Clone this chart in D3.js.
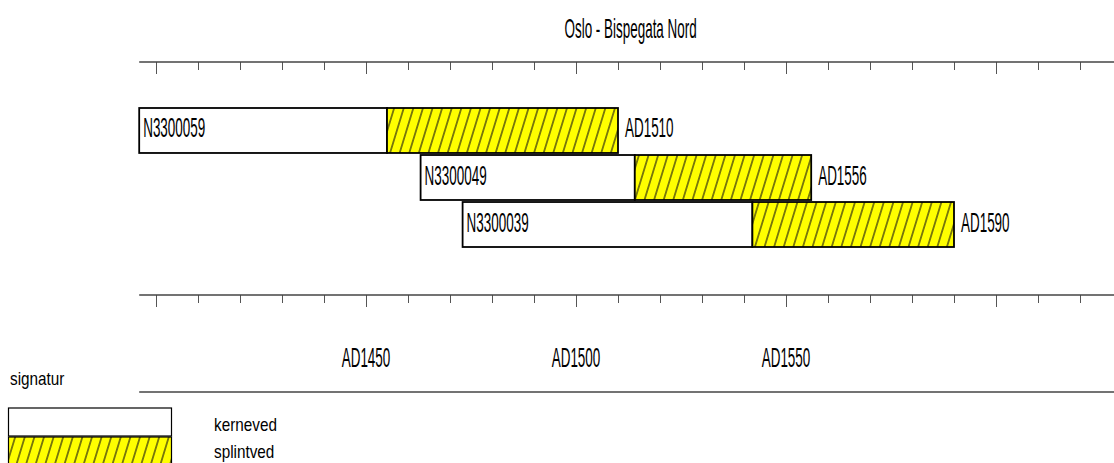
<!DOCTYPE html>
<html lang="no">

<head>
    <meta charset="UTF-8">
    <title>Oslo - Bispegata Nord</title>
    <script src="https://d3js.org/d3.v7.min.js"></script>
    <style>
        body {
            margin: 0;
            background: #fff;
        }

        svg {
            display: block;
        }

        text {
            font-family: "Liberation Sans", Arial, sans-serif;
            fill: #000;
        }
    </style>
</head>

<body>
    <script>
        // data
        const title = "Oslo - Bispegata Nord"
        const samples = ["N3300059", "N3300049", "N3300039"]
        const startYears = [1396, 1463, 1473]   // first ring
        const sapStart = [1455, 1514, 1542]     // start of sapwood (splintved)
        const endYears = [1510, 1556, 1590]     // last ring
        const tickYears = d3.range(1400, 1621, 10)
        const labelYears = [1450, 1500, 1550]
        const tickLabels = ["AD1450", "AD1500", "AD1550"]
        const legendLabels = ["kerneved", "splintved"]

        const width = 1114
        const height = 463

        const svg = d3.select("body").append("svg")
            .attr("width", width)
            .attr("height", height)

        // diagonal hatch for sapwood
        const defs = svg.append("defs")
        const pat = defs.append("pattern")
            .attr("id", "hatch")
            .attr("patternUnits", "userSpaceOnUse")
            .attr("width", 9.6)
            .attr("height", 10)
            .attr("patternTransform", "skewX(-17)")
        pat.append("rect").attr("width", 9.6).attr("height", 10).attr("fill", "#ffff00")
        pat.append("line")
            .attr("x1", 4.8).attr("x2", 4.8)
            .attr("y1", -1).attr("y2", 11)
            .attr("stroke", "#111").attr("stroke-width", 1.1)

        const x = d3.scaleLinear().domain([1400, 1620]).range([156, 1080])
        const y = d3.scaleBand().domain(samples).range([108, 247]).paddingInner(0.043)

        const bigFont = 28, bigScale = 0.48
        const smallFont = 18, smallScale = 0.85

        // narrow text helper
        function label(g, txt, px, py, size, sx, anchor) {
            return g.append("text")
                .attr("transform", `translate(${px},${py}) scale(${sx},1)`)
                .attr("font-size", size)
                .attr("text-anchor", anchor || "start")
                .text(txt)
        }

        label(svg, title, x(1513), 38, bigFont, bigScale, "middle")

        // axes
        const lineStart = x(d3.min(startYears))
        function timeAxis(yPos) {
            const g = svg.append("g").attr("transform", `translate(0,${yPos})`)
            g.call(d3.axisBottom(x).tickValues(tickYears).tickFormat("").tickSizeOuter(0))
            g.select(".domain").remove()
            g.selectAll(".tick line")
                .attr("stroke", "#555")
                .attr("y2", d => d % 50 === 0 ? 12 : 8)
            g.append("line")
                .attr("x1", lineStart).attr("x2", width)
                .attr("stroke", "#444").attr("stroke-width", 1.5)
            return g
        }
        timeAxis(62)
        timeAxis(295)

        labelYears.forEach((yr, i) => label(svg, tickLabels[i], x(yr), 367, bigFont, bigScale, "middle"))

        svg.append("line")
            .attr("x1", lineStart).attr("x2", width)
            .attr("y1", 392).attr("y2", 392)
            .attr("stroke", "#444").attr("stroke-width", 1.5)

        // bars
        const bars = svg.append("g")
        samples.forEach((s, i) => {
            const top = y(s), h = y.bandwidth()
            bars.append("rect")
                .attr("x", x(startYears[i])).attr("y", top)
                .attr("width", x(sapStart[i]) - x(startYears[i])).attr("height", h)
                .attr("fill", "#fff").attr("stroke", "#000").attr("stroke-width", 1.8)
            bars.append("rect")
                .attr("x", x(sapStart[i])).attr("y", top)
                .attr("width", x(endYears[i]) - x(sapStart[i])).attr("height", h)
                .attr("fill", "url(#hatch)").attr("stroke", "#000").attr("stroke-width", 1.8)
            label(bars, s, x(startYears[i]) + 4, top + h / 2 + 7, bigFont, bigScale)
            label(bars, "AD" + endYears[i], x(endYears[i]) + 7, top + h / 2 + 7, bigFont, bigScale)
        })

        // legend
        const leg = svg.append("g")
        label(leg, "signatur", 10, 385, smallFont, smallScale)
        const legFills = ["#fff", "url(#hatch)"]
        legFills.forEach((f, i) => {
            leg.append("rect")
                .attr("x", 8.5).attr("y", 408 + i * 29)
                .attr("width", 163).attr("height", 28)
                .attr("fill", f).attr("stroke", "#000").attr("stroke-width", 1.2)
            label(leg, legendLabels[i], 214, 431 + i * 27, smallFont, smallScale)
        })
    </script>
</body>

</html>
